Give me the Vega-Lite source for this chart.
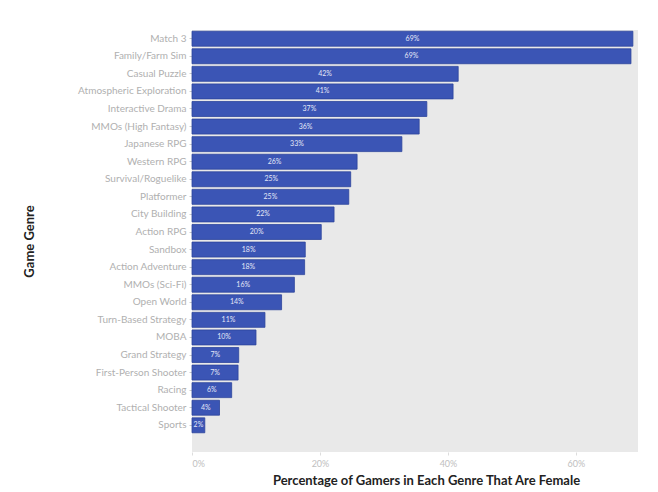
{
  "$schema": "https://vega.github.io/schema/vega-lite/v6.json",
  "autosize": {"type": "none"},
  "width": 446,
  "height": 422,
  "padding": {"left": 192, "top": 30, "right": 20, "bottom": 40},
  "background": "#ffffff",
  "config": {
    "font": "Lato",
    "view": {"fill": "#e9e9e9", "stroke": null}
  },
  "data": {
    "values": [
      {"genre": "Match 3", "pct": 0.689},
      {"genre": "Family/Farm Sim", "pct": 0.686},
      {"genre": "Casual Puzzle", "pct": 0.416},
      {"genre": "Atmospheric Exploration", "pct": 0.408},
      {"genre": "Interactive Drama", "pct": 0.367},
      {"genre": "MMOs (High Fantasy)", "pct": 0.355},
      {"genre": "Japanese RPG", "pct": 0.328},
      {"genre": "Western RPG", "pct": 0.258},
      {"genre": "Survival/Roguelike", "pct": 0.248},
      {"genre": "Platformer", "pct": 0.245},
      {"genre": "City Building", "pct": 0.222},
      {"genre": "Action RPG", "pct": 0.202},
      {"genre": "Sandbox", "pct": 0.177},
      {"genre": "Action Adventure", "pct": 0.176},
      {"genre": "MMOs (Sci-Fi)", "pct": 0.16},
      {"genre": "Open World", "pct": 0.14},
      {"genre": "Turn-Based Strategy", "pct": 0.114},
      {"genre": "MOBA", "pct": 0.1},
      {"genre": "Grand Strategy", "pct": 0.073},
      {"genre": "First-Person Shooter", "pct": 0.072},
      {"genre": "Racing", "pct": 0.062},
      {"genre": "Tactical Shooter", "pct": 0.043},
      {"genre": "Sports", "pct": 0.02}
    ]
  },
  "transform": [{"calculate": "datum.pct / 2", "as": "mid"}],
  "encoding": {
    "y": {
      "field": "genre",
      "type": "nominal",
      "sort": null,
      "scale": {"range": [0, 404], "paddingInner": 0.15, "paddingOuter": 0.07},
      "axis": {
        "title": "Game Genre",
        "titleFont": "Lato",
        "titleFontWeight": "bold",
        "titleFontSize": 13,
        "titleColor": "#222222",
        "titleX": -156,
        "titleY": 211,
        "titleAngle": -90,
        "titleAlign": "center",
        "titleBaseline": "bottom",
        "labelFontSize": 10,
        "labelColor": "#b0b0b0",
        "labelPadding": 3,
        "tickColor": "#cccccc",
        "tickSize": 3,
        "domain": false,
        "grid": false
      }
    }
  },
  "layer": [
    {
      "mark": {"type": "bar", "color": "#3b55b5", "stroke": "#2c449c", "strokeWidth": 0.8},
      "encoding": {
        "x": {
          "field": "pct",
          "type": "quantitative",
          "scale": {"domain": [0, 0.697], "nice": false, "zero": true},
          "axis": {
            "values": [0, 0.2, 0.4, 0.6],
            "format": ".0%",
            "title": "Percentage of Gamers in Each Genre That Are Female",
            "titleFont": "Lato",
            "titleFontWeight": "bold",
            "titleFontSize": 13,
            "titleColor": "#222222",
            "titleX": 234,
            "titlePadding": 6,
            "labelFontSize": 9,
            "labelColor": "#c0c0c0",
            "labelPadding": 4,
            "tickColor": "#dddddd",
            "tickSize": 3,
            "domain": false,
            "grid": false
          }
        }
      }
    },
    {
      "mark": {"type": "text", "color": "#e3e7f7", "fontSize": 7, "align": "center", "baseline": "middle"},
      "encoding": {
        "x": {"field": "mid", "type": "quantitative"},
        "text": {"field": "pct", "type": "quantitative", "format": ".0%"}
      }
    }
  ]
}
